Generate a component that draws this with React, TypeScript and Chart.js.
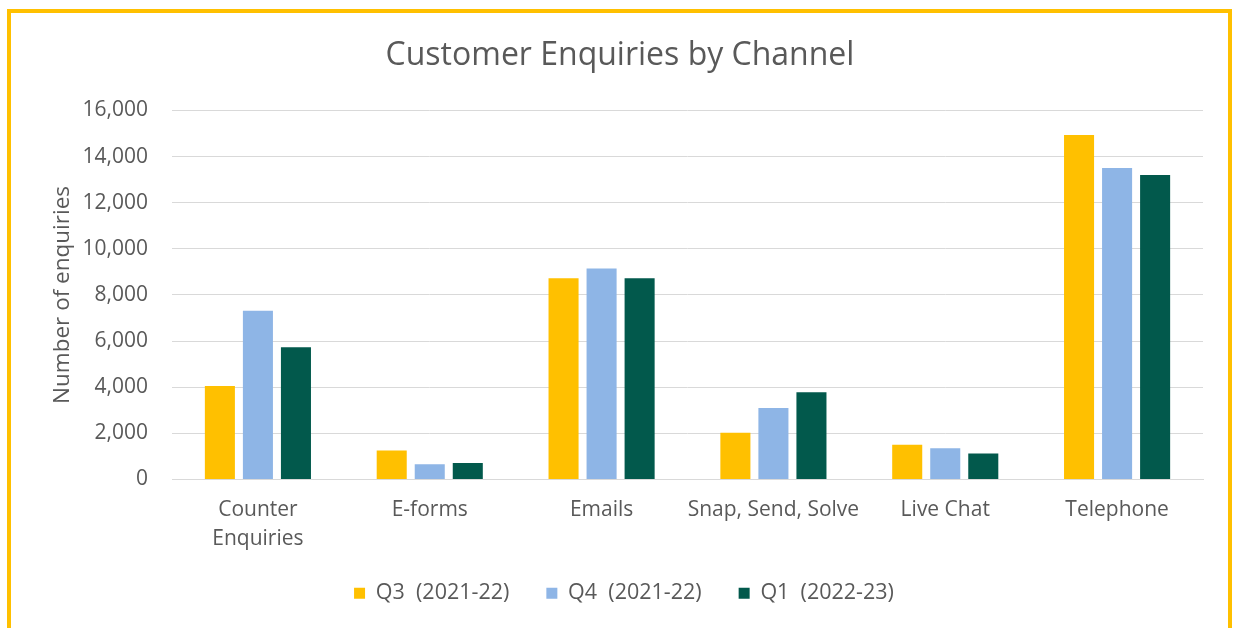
import React, { useEffect, useRef } from "react";
import { Chart, registerables } from "chart.js";

Chart.register(...registerables);

const categories: (string | string[])[] = [
  ["Counter", "Enquiries"],
  "E-forms",
  "Emails",
  "Snap, Send, Solve",
  "Live Chat",
  "Telephone",
];
const seriesNames = ["Q3  (2021-22)", "Q4  (2021-22)", "Q1  (2022-23)"];
const q3Values = [4050, 1260, 8720, 2030, 1510, 14930];
const q4Values = [7320, 660, 9150, 3100, 1350, 13500];
const q1Values = [5730, 720, 8720, 3780, 1130, 13200];
const seriesColors = ["#FFC000", "#8EB5E6", "#02594C"];
const yTicks = [0, 2000, 4000, 6000, 8000, 10000, 12000, 14000, 16000];

const FONT = "'Open Sans', 'DejaVu Sans', sans-serif";
const TEXT = "#595959";

const legendNudge = {
  id: "legendNudge",
  afterLayout(chart: any) {
    const lg = chart.legend;
    if (!lg) return;
    lg.top -= 8;
    lg.bottom -= 8;
    lg.left += 4;
    lg.right += 4;
  },
};

export default function App() {
  const ref = useRef<HTMLCanvasElement | null>(null);
  useEffect(() => {
    if (!ref.current) return;
    const values = [q3Values, q4Values, q1Values];
    const chart = new Chart(ref.current, {
      type: "bar",
      data: {
        labels: categories as any,
        datasets: seriesNames.map((name, i) => ({
          label: name,
          data: values[i],
          backgroundColor: seriesColors[i],
          borderWidth: 0,
          categoryPercentage: 0.664,
          barPercentage: 0.79,
        })),
      },
      options: {
        responsive: false,
        animation: false,
        layout: { padding: { left: 37, right: 30, top: 0, bottom: 38 } },
        plugins: {
          title: {
            display: true,
            text: "Customer Enquiries by Channel",
            color: TEXT,
            font: { family: FONT, size: 32, weight: "normal" },
            padding: { top: 37, bottom: 35 },
          },
          legend: {
            position: "bottom",
            labels: {
              color: TEXT,
              font: { family: FONT, size: 21.5 },
              boxWidth: 11,
              boxHeight: 11,
              padding: 37,
            },
          },
          tooltip: { enabled: false },
        },
        scales: {
          x: {
            grid: { display: false, drawTicks: false },
            border: { display: true, color: "#D9D9D9", width: 1 },
            ticks: {
              color: TEXT,
              font: { family: FONT, size: 21, lineHeight: 1.38 },
              padding: 16,
              autoSkip: false,
              maxRotation: 0,
            },
            afterFit: (s: any) => {
              s.height = 74;
            },
          },
          y: {
            min: 0,
            max: 16000,
            afterBuildTicks: (s: any) => {
              s.ticks = yTicks.map((v) => ({ value: v }));
            },
            grid: { color: "#D9D9D9", lineWidth: 1, drawTicks: false },
            border: { display: false },
            ticks: {
              color: TEXT,
              font: { family: FONT, size: 21 },
              padding: 24,
              callback: (v: any) => Number(v).toLocaleString("en-US"),
            },
            title: {
              display: true,
              text: "Number of enquiries",
              color: TEXT,
              font: { family: FONT, size: 22.5 },
              padding: { top: 12, bottom: 0 },
            },
            afterFit: (s: any) => {
              s.width = 135;
            },
          },
        },
      },
      plugins: [legendNudge],
    });
    return () => chart.destroy();
  }, []);

  return (
    <div>
      <canvas
        ref={ref}
        width={1233}
        height={660}
        style={{ position: "fixed", left: 0, top: 0, width: 1233, height: 660, background: "#fff" }}
      />
      <div
        style={{
          position: "fixed",
          left: 7,
          top: 9,
          width: 1225,
          height: 700,
          boxSizing: "border-box",
          border: "4px solid #FFC000",
          pointerEvents: "none",
        }}
      />
    </div>
  );
}
